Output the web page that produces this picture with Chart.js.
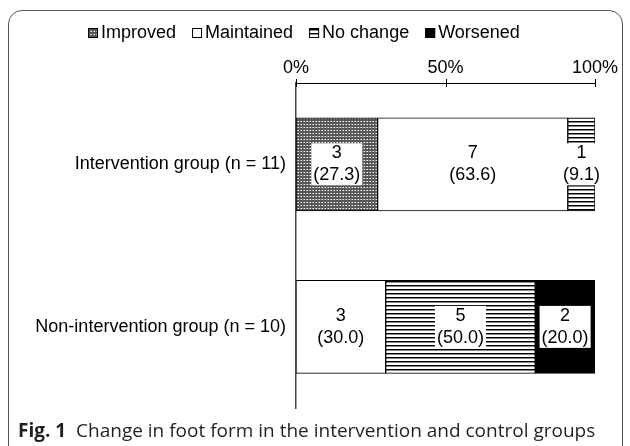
<!DOCTYPE html>
<html>
<head>
<meta charset="utf-8">
<script src="https://cdn.jsdelivr.net/npm/chart.js@4.4.1/dist/chart.umd.min.js"></script>
<style>
    body { margin: 0; background: #fff; width: 630px; height: 446px; overflow: hidden; position: relative; }
    .frame { position: absolute; left: 8px; top: 10px; width: 613px; height: 460px; border: 1px solid #555; border-radius: 14px; }
    #chartWrap { position: absolute; left: 0; top: 0; width: 630px; height: 429px; }
    .caption { position: absolute; left: 18px; top: 417px; font-family: "Open Sans", sans-serif; font-size: 19px; color: #231f20; white-space: nowrap; }
    .caption b { font-weight: 700; }
</style>
</head>
<body>
<div class="frame"></div>
<div id="chartWrap"><canvas id="footChart"></canvas></div>
<div class="caption"><b>Fig. 1</b>&nbsp; Change in foot form in the intervention and control groups</div>
<script>
const groups = ['Intervention group (n = 11)', 'Non-intervention group (n = 10)'];
const seriesNames = ['Improved', 'Maintained', 'No change', 'Worsened'];

// number of subjects
const improvedN = [3, 0];
const maintainedN = [7, 3];
const noChangeN = [1, 5];
const worsenedN = [0, 2];

// percentage of group
const improvedPct = [27.3, 0];
const maintainedPct = [63.6, 30.0];
const noChangePct = [9.1, 50.0];
const worsenedPct = [0, 20.0];

const xTicks = [0, 50, 100];

const FONT = '"Liberation Sans", Arial, sans-serif';
const SIZE = 18;

function makePattern(kind) {
    const c = document.createElement('canvas');
    const g = c.getContext('2d');
    if (kind === 'dots') {
        c.width = 3; c.height = 3;
        g.fillStyle = '#585858';
        g.fillRect(0, 0, 3, 3);
        g.fillStyle = '#ffffff';
        g.fillRect(1, 1, 1, 1);
        g.fillStyle = '#a8a8a8';
        g.fillRect(0, 1, 1, 1);
    } else {
        c.width = 4; c.height = 4;
        g.fillStyle = '#ffffff';
        g.fillRect(0, 0, 4, 4);
        g.fillStyle = '#000000';
        g.fillRect(0, 1, 4, 1);
        g.fillStyle = '#888888';
        g.fillRect(0, 2, 4, 1);
    }
    return g.createPattern(c, 'repeat');
}

const ctx = document.getElementById('footChart').getContext('2d');
const dotFill = makePattern('dots');
const lineFill = makePattern('lines');

// count + percent inside each segment, white box behind the text
const valueLabels = {
    id: 'valueLabels',
    afterDatasetsDraw(chart) {
        const c = chart.ctx;
        c.save();
        c.font = SIZE + 'px ' + FONT;
        c.textAlign = 'center';
        c.textBaseline = 'middle';
        chart.data.datasets.forEach((ds, i) => {
            chart.getDatasetMeta(i).data.forEach((bar, j) => {
                if (!ds.counts[j]) return;
                const cx = (bar.x + bar.base) / 2;
                const cy = bar.y;
                const top = String(ds.counts[j]);
                const bottom = '(' + ds.data[j].toFixed(1) + ')';
                const w = Math.max(c.measureText(top).width, c.measureText(bottom).width) + 4;
                c.fillStyle = '#fff';
                c.fillRect(cx - w / 2, cy - 21, w, 42);
                c.fillStyle = '#000';
                c.fillText(top, cx, cy - 11);
                c.fillText(bottom, cx, cy + 11);
            });
        });
        c.restore();
    },
    afterDraw(chart) {
        // tick marks crossing the top axis
        const c = chart.ctx;
        const x = chart.scales.x;
        c.save();
        c.strokeStyle = '#000';
        c.lineWidth = 1;
        x.ticks.forEach(t => {
            const px = Math.round(x.getPixelForValue(t.value)) + 0.5;
            c.beginPath();
            c.moveTo(px, x.bottom - 4);
            c.lineTo(px, x.bottom + 4);
            c.stroke();
        });
        c.restore();
    }
};

// legend drawn by hand so the icon sits close to its text
const legendRow = {
    id: 'legendRow',
    afterDraw(chart) {
        const c = chart.ctx;
        c.save();
        c.font = SIZE + 'px ' + FONT;
        c.textBaseline = 'middle';
        const box = 10, gapIn = 3, gapOut = 16;
        const items = chart.data.datasets;
        let total = 0;
        items.forEach((ds, i) => {
            total += box + gapIn + c.measureText(ds.label).width + (i < items.length - 1 ? gapOut : 0);
        });
        let x = Math.round(304 - total / 2);
        const y = 33;
        items.forEach(ds => {
            c.fillStyle = ds.backgroundColor;
            c.fillRect(x, y - 5, box, box);
            c.strokeStyle = '#000';
            c.lineWidth = 1;
            c.strokeRect(x + 0.5, y - 4.5, box - 1, box - 1);
            if (ds.label === 'No change') {
                c.beginPath();
                c.moveTo(x, y + 0.5);
                c.lineTo(x + box, y + 0.5);
                c.stroke();
            }
            x += box + gapIn;
            c.fillStyle = '#000';
            c.fillText(ds.label, x, y);
            x += c.measureText(ds.label).width + gapOut;
        });
        c.restore();
    }
};

new Chart(ctx, {
    type: 'bar',
    data: {
        labels: groups,
        datasets: [
            { label: seriesNames[0], data: improvedPct, counts: improvedN, backgroundColor: dotFill },
            { label: seriesNames[1], data: maintainedPct, counts: maintainedN, backgroundColor: '#ffffff' },
            { label: seriesNames[2], data: noChangePct, counts: noChangeN, backgroundColor: lineFill },
            { label: seriesNames[3], data: worsenedPct, counts: worsenedN, backgroundColor: '#000000' }
        ]
    },
    options: {
        indexAxis: 'y',
        responsive: true,
        maintainAspectRatio: false,
        animation: false,
        layout: { padding: { left: 0, right: 35, top: 0, bottom: 4 } },
        datasets: {
            bar: { barThickness: 93, borderColor: '#000', borderWidth: 1, borderSkipped: false }
        },
        scales: {
            x: {
                position: 'top',
                stacked: true,
                min: 0,
                max: 100,
                afterBuildTicks: s => { s.ticks = xTicks.map(v => ({ value: v })); },
                afterFit: s => { s.height = 83; },
                grid: { display: false, drawTicks: false },
                border: { display: true, color: '#000', width: 1 },
                ticks: {
                    padding: 4,
                    color: '#000',
                    font: { family: FONT, size: SIZE },
                    callback: v => v + '%'
                }
            },
            y: {
                stacked: true,
                afterFit: s => { s.width = 296; },
                grid: { display: false, drawTicks: false },
                border: { display: true, color: '#444', width: 1.5 },
                ticks: {
                    padding: 10,
                    color: '#000',
                    font: { family: FONT, size: SIZE }
                }
            }
        },
        plugins: {
            legend: { display: false },
            tooltip: { enabled: false }
        }
    },
    plugins: [valueLabels, legendRow]
});
</script>
</body>
</html>
